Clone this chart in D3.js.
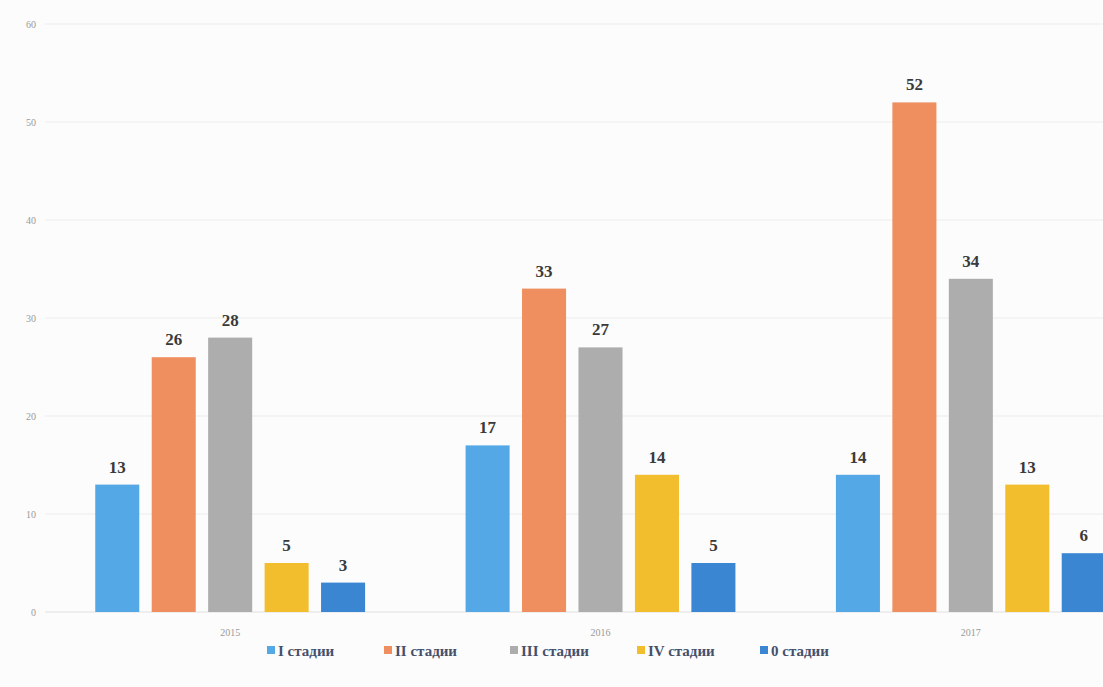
<!DOCTYPE html>
<html>
<head>
<meta charset="utf-8">
<script src="https://cdn.jsdelivr.net/npm/d3@7"></script>
<style>
  body { margin: 0; background: #fcfcfc; overflow: hidden; }
  svg { display: block; }
</style>
</head>
<body>
<div id="chart"></div>
<script>
// data
const years = ["2015", "2016", "2017"]
const stages = ["I стадии", "II стадии", "III стадии", "IV стадии", "0 стадии"]
const stageColors = ["#55a8e6", "#ef8f5f", "#adadad", "#f3be2d", "#3b86d2"]
const values2015 = [13, 26, 28, 5, 3]
const values2016 = [17, 33, 27, 14, 5]
const values2017 = [14, 52, 34, 13, 6]
const yTicks = [0, 10, 20, 30, 40, 50, 60]

const allValues = [values2015, values2016, values2017]
const rows = years.flatMap((year, i) =>
  stages.map((stage, j) => ({ year: year, stage: stage, value: allValues[i][j] })))

const width = 1103
const height = 687
const margin = { top: 24, left: 45, bottom: 75, right: -53 }

const svg = d3.select("#chart").append("svg")
  .attr("width", width)
  .attr("height", height)

const x = d3.scaleBand(years, [margin.left, width - margin.right])
  .paddingInner(0)
  .paddingOuter(0)
const xSub = d3.scaleBand(stages, [0, x.bandwidth()])
  .paddingInner(0.22)
  .paddingOuter(0.89)
const y = d3.scaleLinear([0, 60], [height - margin.bottom, margin.top])

// gridlines
svg.append("g")
  .selectAll("line")
  .data(yTicks)
  .join("line")
  .attr("x1", margin.left)
  .attr("x2", width)
  .attr("y1", d => y(d))
  .attr("y2", d => y(d))
  .attr("stroke", d => d === 0 ? "#e0e0e0" : "#ececec")
  .attr("stroke-width", 1)

// y tick labels
svg.append("g")
  .selectAll("text")
  .data(yTicks)
  .join("text")
  .attr("x", 36)
  .attr("y", d => y(d))
  .attr("dy", "0.35em")
  .attr("text-anchor", "end")
  .attr("font-family", "Liberation Serif, serif")
  .attr("font-size", 10)
  .attr("fill", "#9a9a9a")
  .text(d => d)

// bars
const bars = svg.append("g")
bars.selectAll("rect")
  .data(rows)
  .join("rect")
  .attr("x", d => x(d.year) + xSub(d.stage))
  .attr("y", d => y(d.value))
  .attr("width", xSub.bandwidth())
  .attr("height", d => y(0) - y(d.value))
  .attr("fill", d => stageColors[stages.indexOf(d.stage)])

// value labels
svg.append("g")
  .selectAll("text")
  .data(rows)
  .join("text")
  .attr("x", d => x(d.year) + xSub(d.stage) + xSub.bandwidth() / 2)
  .attr("y", d => y(d.value) - 12)
  .attr("text-anchor", "middle")
  .attr("font-family", "Liberation Serif, serif")
  .attr("font-weight", "bold")
  .attr("font-size", 17)
  .attr("fill", "#3a3a3a")
  .text(d => d.value)

// year labels
svg.append("g")
  .selectAll("text")
  .data(years)
  .join("text")
  .attr("x", d => x(d) + x.bandwidth() / 2)
  .attr("y", y(0) + 24)
  .attr("text-anchor", "middle")
  .attr("font-family", "Liberation Serif, serif")
  .attr("font-size", 10)
  .attr("fill", "#9a9a9a")
  .text(d => d)

// legend
const legendX = d3.scalePoint(stages, [267, 760])
const legend = svg.append("g")
  .selectAll("g")
  .data(stages)
  .join("g")
  .attr("transform", (d, i) => `translate(${[267, 384, 510, 637, 760][i]},651)`)
legend.append("rect")
  .attr("x", 0)
  .attr("y", -5)
  .attr("width", 8)
  .attr("height", 8)
  .attr("fill", (d, i) => stageColors[i])
legend.append("text")
  .attr("x", 11)
  .attr("y", 0)
  .attr("dy", "0.35em")
  .attr("font-family", "Liberation Serif, serif")
  .attr("font-weight", "bold")
  .attr("font-size", 15)
  .attr("fill", "#46506a")
  .text(d => d)
</script>
</body>
</html>
